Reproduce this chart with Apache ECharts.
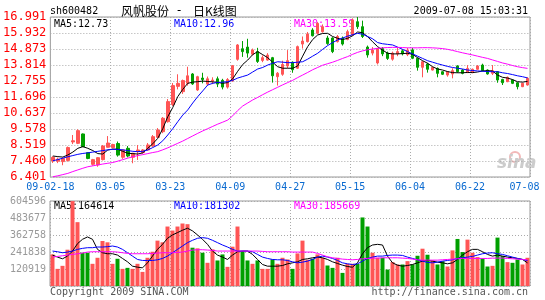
<!DOCTYPE html>
<html>
<head>
<meta charset="utf-8">
<script src="https://cdn.jsdelivr.net/npm/echarts@6/dist/echarts.min.js"></script>
<style>
html,body{margin:0;padding:0;background:#fff;}
#c{width:545px;height:300px;}
</style>
</head>
<body>
<div id="c"></div>
<script>
// ---- data ----
const dateLabels = ['09-02-18','03-05','03-23','04-09','04-27','05-15','06-04','06-22','07-08'];
const priceTicks = ['6.401','7.460','8.519','9.578','10.637','11.696','12.755','13.814','14.873','15.932','16.991'];
const volTicks = ['','120919','241838','362758','483677','604596'];

// [open, close, low, high]
const candles = [
[7.46,7.70,7.33,7.78],[7.45,7.58,7.32,7.68],[7.42,7.62,7.18,7.70],[7.50,8.35,7.42,8.42],[8.72,8.80,8.58,9.18],
[8.63,9.47,8.58,9.56],[9.25,8.41,8.38,9.28],[8.01,7.63,7.58,8.03],[7.24,7.55,7.15,7.60],[7.20,7.68,7.08,7.72],
[7.55,8.45,7.50,8.52],[8.37,8.65,8.35,9.11],[8.35,8.55,8.30,8.60],[8.62,7.85,7.75,8.75],[7.71,8.19,7.60,8.22],
[8.30,7.79,7.70,8.45],[7.71,7.97,7.31,8.00],[8.08,8.19,7.53,8.52],[8.01,8.19,7.95,8.25],[8.19,8.52,8.15,8.65],
[8.45,9.07,8.40,9.18],[9.03,9.51,8.98,9.64],[9.40,10.29,9.30,10.37],[10.06,11.39,10.00,11.56],[11.20,12.45,11.10,12.62],
[12.40,12.60,12.20,13.20],[12.05,12.78,11.90,12.85],[12.60,13.10,12.45,13.70],[13.22,12.56,12.50,13.28],[12.16,13.04,12.10,13.10],
[12.95,12.85,12.60,13.30],[12.55,12.90,12.45,13.05],[12.75,12.82,12.55,13.00],[12.90,12.55,12.35,13.05],[12.80,12.35,12.20,12.90],
[12.35,12.85,12.25,12.95],[12.77,13.77,12.70,13.80],[14.19,15.14,14.10,15.20],[14.89,14.70,14.35,15.40],[15.00,14.60,14.30,15.55],
[14.53,14.81,14.45,14.90],[14.70,14.05,13.95,14.95],[14.12,14.30,14.00,14.45],[14.14,14.47,14.10,14.60],[14.30,13.10,12.65,14.35],
[13.04,13.27,12.45,13.35],[13.20,13.85,13.10,14.10],[13.75,14.10,13.60,14.80],[14.00,13.50,13.30,14.05],[13.60,15.03,13.55,15.10],
[15.20,15.40,14.90,15.70],[15.36,15.86,15.30,16.00],[16.13,15.75,15.70,16.25],[15.91,16.57,15.85,16.65],[16.02,16.35,15.95,16.50],
[15.60,15.23,15.15,15.75],[15.60,14.70,14.60,15.65],[15.36,15.70,15.30,15.80],[15.60,15.20,15.10,15.70],[15.50,16.02,15.45,16.15],
[15.80,16.80,15.75,16.90],[16.68,16.35,16.20,16.99],[16.35,15.70,15.60,16.75],[15.00,14.48,14.30,15.10],[14.60,14.80,14.45,15.00],
[13.95,14.90,13.85,14.95],[14.90,14.55,14.40,15.00],[14.60,14.25,14.15,14.70],[14.20,14.60,14.10,14.70],[14.55,14.70,14.40,14.95],
[14.75,14.55,14.45,14.85],[14.50,14.80,14.40,14.95],[14.81,14.26,14.20,14.95],[14.26,13.66,13.44,14.30],[13.66,14.03,13.00,14.10],
[13.88,13.53,13.31,13.95],[13.48,13.66,13.45,13.70],[13.59,13.26,13.00,13.65],[13.37,13.20,13.15,13.40],[13.15,13.37,13.04,13.40],
[13.22,13.44,12.93,13.60],[13.75,13.37,13.30,13.80],[13.48,13.26,13.20,13.55],[13.31,13.59,13.28,13.81],[13.31,13.53,13.28,13.58],
[13.53,13.75,13.50,13.81],[13.81,13.44,13.40,13.90],[13.48,13.22,13.18,13.52],[13.26,13.44,13.15,13.81],[13.37,12.82,12.64,13.40],
[12.86,12.64,12.49,12.90],[12.71,13.00,12.68,13.05],[12.82,12.60,12.55,12.86],[12.64,12.38,12.20,12.68],[12.38,12.60,12.35,12.64],
[12.49,12.93,12.45,13.00]
];

const ma5 = [7.79,7.75,7.72,7.86,8.05,8.30,8.41,8.30,8.15,7.95,
7.92,8.19,8.25,8.24,8.10,7.97,7.95,7.92,8.00,8.30,
8.60,8.96,9.60,10.39,11.00,11.72,12.20,12.60,12.68,12.71,
12.75,12.72,12.70,12.66,12.60,12.65,12.90,13.40,13.85,14.14,
14.50,14.70,14.50,14.30,14.00,13.70,13.60,13.60,13.60,13.75,
14.40,15.03,15.50,15.80,15.90,15.91,15.70,15.58,15.50,15.58,
15.75,16.00,15.95,15.69,15.35,15.03,14.80,14.59,14.55,14.55,
14.57,14.59,14.52,14.30,14.10,13.93,13.70,13.55,13.48,13.38,
13.31,13.30,13.30,13.32,13.31,13.35,13.42,13.44,13.42,13.15,
13.00,12.95,12.85,12.71,12.68,12.73];

const ma10 = [7.48,7.55,7.65,7.74,7.82,7.90,7.96,8.00,8.05,8.10,
8.15,8.20,8.23,8.23,8.20,8.15,8.10,8.08,8.10,8.19,
8.35,8.52,8.80,9.18,9.60,10.06,10.50,10.84,11.30,11.72,
12.10,12.49,12.60,12.66,12.68,12.71,12.80,12.95,13.05,13.15,
13.35,13.55,13.65,13.81,13.93,14.03,14.00,13.97,13.97,14.00,
14.03,14.20,14.40,14.59,14.85,15.10,15.30,15.47,15.60,15.72,
15.82,15.91,15.85,15.70,15.55,15.30,15.22,15.18,15.14,15.00,
14.85,14.70,14.55,14.40,14.25,14.10,14.00,13.90,13.81,13.72,
13.65,13.60,13.55,13.48,13.45,13.42,13.40,13.38,13.37,13.37,
13.30,13.25,13.18,13.10,13.04,12.96];

const ma30 = [6.42,6.48,6.56,6.64,6.76,6.87,6.98,7.08,7.14,7.20,
7.26,7.31,7.36,7.45,7.55,7.65,7.74,7.82,7.88,7.95,
8.02,8.08,8.20,8.33,8.48,8.63,8.78,8.95,9.12,9.29,
9.45,9.60,9.75,9.90,10.03,10.17,10.45,10.80,11.10,11.30,
11.50,11.67,11.85,12.02,12.18,12.34,12.50,12.65,12.80,12.98,
13.15,13.32,13.50,13.65,13.80,13.90,14.00,14.12,14.25,14.37,
14.52,14.65,14.75,14.82,14.87,14.92,14.95,14.97,14.98,14.98,
14.97,14.95,14.95,14.95,14.96,14.96,14.95,14.93,14.90,14.85,
14.78,14.70,14.62,14.55,14.48,14.40,14.32,14.25,14.15,14.05,
13.95,13.87,13.78,13.70,13.64,13.59];

const volumes = [224660,121890,143400,258120,604000,454100,236610,236610,157740,200760,
320260,310700,157740,193590,121890,129060,121890,157740,100380,200760,
243780,322650,310700,423030,394350,423030,444540,439760,272460,267680,
236610,164910,260510,181640,224660,136230,279630,423030,248560,181640,
157740,181640,121890,121890,188810,157740,200760,188810,121890,231830,
322650,186420,193590,224660,200760,145790,129060,200760,93210,157740,
157740,157740,487560,423030,236610,200760,200760,117110,169690,152960,
152960,176860,152960,215100,265290,222270,181640,152960,176860,138620,
253340,334600,241390,329820,236610,205540,195980,138620,143400,344160,
212710,169690,164910,188810,152960,200760];

const vma5 = [219880,205540,193590,212710,248560,301140,332210,348940,332210,260510,
236610,229440,229440,219880,195980,172080,141010,133840,129060,164910,
212710,260510,296360,339380,363280,380010,396740,411080,391960,363280,
332210,296360,248560,219880,205540,188810,219880,243780,248560,248560,
224660,188810,152960,141010,141010,141010,145790,157740,164910,172080,
188810,193590,200760,205540,200760,188810,172080,160130,148180,138620,
133840,164910,229440,272460,291580,296360,291580,212710,164910,148180,
141010,145790,152960,164910,176860,181640,176860,169690,164910,157740,
164910,188810,219880,243780,260510,260510,243780,224660,212710,219880,
212710,205540,200760,195980,188810,164614];

const vma10 = [248560,243780,236610,241390,248560,260510,267680,272460,272460,277240,
277240,279630,284410,277240,260510,236610,212710,188810,181640,181640,
181640,186420,195980,212710,236610,260510,284410,308310,325040,339380,
344160,339380,325040,308310,291580,277240,260510,248560,248560,248560,
243780,224660,205540,195980,188810,186420,186420,181640,172080,164910,
169690,176860,188810,205540,212710,205540,195980,181640,164910,157740,
152960,157740,176860,195980,205540,212710,212710,217490,219880,219880,
217490,205540,195980,186420,176860,167300,164910,169690,176860,181640,
186420,195980,200760,205540,210320,219880,229440,234220,236610,229440,
224660,215100,205540,196000,188810,181302];

const vma30 = [205540,210320,215100,219880,224660,229440,234220,241390,243780,243780,
243780,243780,243780,241390,236610,231830,229440,229440,229440,229440,
231830,234220,236610,236610,236610,239000,241390,248560,255730,258120,
258120,255730,253340,248560,248560,248560,248560,248560,248560,248560,
248560,248560,246170,243780,243780,243780,243780,243780,241390,241390,
241390,241390,241390,231830,219880,207930,200760,195980,191200,188810,
186420,188810,193590,195980,198370,198370,200760,200760,200760,200760,
198370,195980,191200,186420,184030,184030,184030,184030,186420,188810,
191200,193590,195980,195980,195980,195980,195980,195980,198370,198370,
198370,195980,193590,191200,188810,185669];

// ---- chart ----
const RED = '#ff5555', GREEN = '#00a000';
const MONO = '"DejaVu Sans Mono", monospace';
const cats = candles.map((c, i) => String(i));
const last = a => a[a.length - 1];
const dotted = { show: true, lineStyle: { color: '#aaaaaa', width: 1, type: [1, 2] } };

const chart = echarts.init(document.getElementById('c'), null, { renderer: 'canvas' });
const option = {
  animation: false,
  backgroundColor: '#ffffff',
  grid: [
    { left: 50, top: 17, width: 480, height: 160, show: true, borderColor: '#999999', borderWidth: 1, backgroundColor: 'transparent' },
    { left: 50, top: 201, width: 480, height: 85, show: true, borderColor: '#999999', borderWidth: 1, backgroundColor: 'transparent' }
  ],
  xAxis: [
    { type: 'category', gridIndex: 0, data: cats, boundaryGap: true, show: false },
    { type: 'value', gridIndex: 0, min: 0, max: 96, interval: 12, position: 'bottom',
      axisLine: { show: false }, axisTick: { show: false },
      axisLabel: { margin: 5, color: '#0a6ad0', fontSize: 10, fontFamily: MONO,
        formatter: v => { const t = dateLabels[Math.round(v / 12)]; return v === 96 ? '{r|' + t + '}' : t; },
        rich: { r: { color: '#0a6ad0', fontSize: 10, fontFamily: MONO, padding: [0, 11, 0, 0] } } },
      splitLine: dotted },
    { type: 'category', gridIndex: 1, data: cats, boundaryGap: true, show: false },
    { type: 'value', gridIndex: 1, min: 0, max: 96, interval: 12, position: 'bottom',
      axisLine: { show: false }, axisTick: { show: false }, axisLabel: { show: false },
      splitLine: dotted }
  ],
  yAxis: [
    { type: 'value', gridIndex: 0, min: 6.401, max: 16.991, show: false, position: 'left', splitLine: { show: false } },
    { type: 'value', gridIndex: 0, min: 0, max: 10, interval: 1, position: 'left',
      axisLine: { show: false }, axisTick: { show: false },
      axisLabel: { margin: 4, color: '#ff0000', fontSize: 12, fontFamily: MONO, formatter: v => priceTicks[Math.round(v)] },
      splitLine: dotted },
    { type: 'value', gridIndex: 1, min: 0, max: 604596, show: false, position: 'left', splitLine: { show: false } },
    { type: 'value', gridIndex: 1, min: 0, max: 5, interval: 1, position: 'left',
      axisLine: { show: false }, axisTick: { show: false },
      axisLabel: { margin: 4, color: '#999999', fontSize: 10, fontFamily: MONO, formatter: v => volTicks[Math.round(v)] },
      splitLine: dotted }
  ],
  series: [
    { type: 'candlestick', xAxisIndex: 0, yAxisIndex: 0, data: candles, barWidth: 3,
      itemStyle: { color: RED, color0: GREEN, borderColor: RED, borderColor0: GREEN, borderWidth: 1 } },
    { type: 'line', xAxisIndex: 0, yAxisIndex: 0, data: ma5, symbol: 'none', lineStyle: { color: '#000000', width: 1 } },
    { type: 'line', xAxisIndex: 0, yAxisIndex: 0, data: ma10, symbol: 'none', lineStyle: { color: '#0000ff', width: 1 } },
    { type: 'line', xAxisIndex: 0, yAxisIndex: 0, data: ma30, symbol: 'none', lineStyle: { color: '#ff00ff', width: 1 } },
    { type: 'bar', xAxisIndex: 2, yAxisIndex: 2, barWidth: 4,
      data: volumes.map((v, i) => ({ value: v, itemStyle: { color: candles[i][1] >= candles[i][0] ? RED : GREEN } })) },
    { type: 'line', xAxisIndex: 2, yAxisIndex: 2, data: vma5, symbol: 'none', lineStyle: { color: '#000000', width: 1 } },
    { type: 'line', xAxisIndex: 2, yAxisIndex: 2, data: vma10, symbol: 'none', lineStyle: { color: '#0000ff', width: 1 } },
    { type: 'line', xAxisIndex: 2, yAxisIndex: 2, data: vma30, symbol: 'none', lineStyle: { color: '#ff00ff', width: 1 } }
  ],
  graphic: [
    { type: 'text', x: 50, y: 11, style: { text: 'sh600482', fill: '#000', font: '10px ' + MONO, verticalAlign: 'middle' } },
    { type: 'text', x: 121, y: 11, style: { text: '风帆股份', fill: '#000', font: '12px "Noto Sans CJK SC"', verticalAlign: 'middle' } },
    { type: 'text', x: 179, y: 11, style: { text: '-', fill: '#000', font: '12px ' + MONO, align: 'center', verticalAlign: 'middle' } },
    { type: 'text', x: 193, y: 11, style: { text: '日K线图', fill: '#000', font: '12px "Noto Sans CJK SC"', verticalAlign: 'middle' } },
    { type: 'text', x: 528, y: 11, style: { text: '2009-07-08 15:03:31', fill: '#000', font: '10px ' + MONO, align: 'right', verticalAlign: 'middle' } },
    { type: 'text', x: 54, y: 24, style: { text: 'MA5:' + last(ma5).toFixed(2), fill: '#000', font: '10px ' + MONO, verticalAlign: 'middle' } },
    { type: 'text', x: 174, y: 24, style: { text: 'MA10:' + last(ma10).toFixed(2), fill: '#0000ff', font: '10px ' + MONO, verticalAlign: 'middle' } },
    { type: 'text', x: 294, y: 24, style: { text: 'MA30:' + last(ma30).toFixed(2), fill: '#ff00ff', font: '10px ' + MONO, verticalAlign: 'middle' } },
    { type: 'text', x: 54, y: 206, style: { text: 'MA5:' + last(vma5), fill: '#000', font: '10px ' + MONO, verticalAlign: 'middle' } },
    { type: 'text', x: 174, y: 206, style: { text: 'MA10:' + last(vma10), fill: '#0000ff', font: '10px ' + MONO, verticalAlign: 'middle' } },
    { type: 'text', x: 294, y: 206, style: { text: 'MA30:' + last(vma30), fill: '#ff00ff', font: '10px ' + MONO, verticalAlign: 'middle' } },
    { type: 'text', x: 50, y: 292, style: { text: 'Copyright 2009 SINA.COM', fill: '#555', font: '10px ' + MONO, verticalAlign: 'middle' } },
    { type: 'text', x: 528, y: 292, style: { text: 'http://finance.sina.com.cn', fill: '#555', font: '10px ' + MONO, align: 'right', verticalAlign: 'middle' } },
    { type: 'circle', shape: { cx: 515, cy: 157, r: 5 }, style: { fill: 'none', stroke: '#f2b8b8', lineWidth: 2 } },
    { type: 'text', x: 497, y: 172, style: { text: 'sina', fill: '#cccccc', font: 'italic bold 17px "DejaVu Sans"', verticalAlign: 'bottom' } }
  ]
};
chart.setOption(option);
</script>
</body>
</html>
